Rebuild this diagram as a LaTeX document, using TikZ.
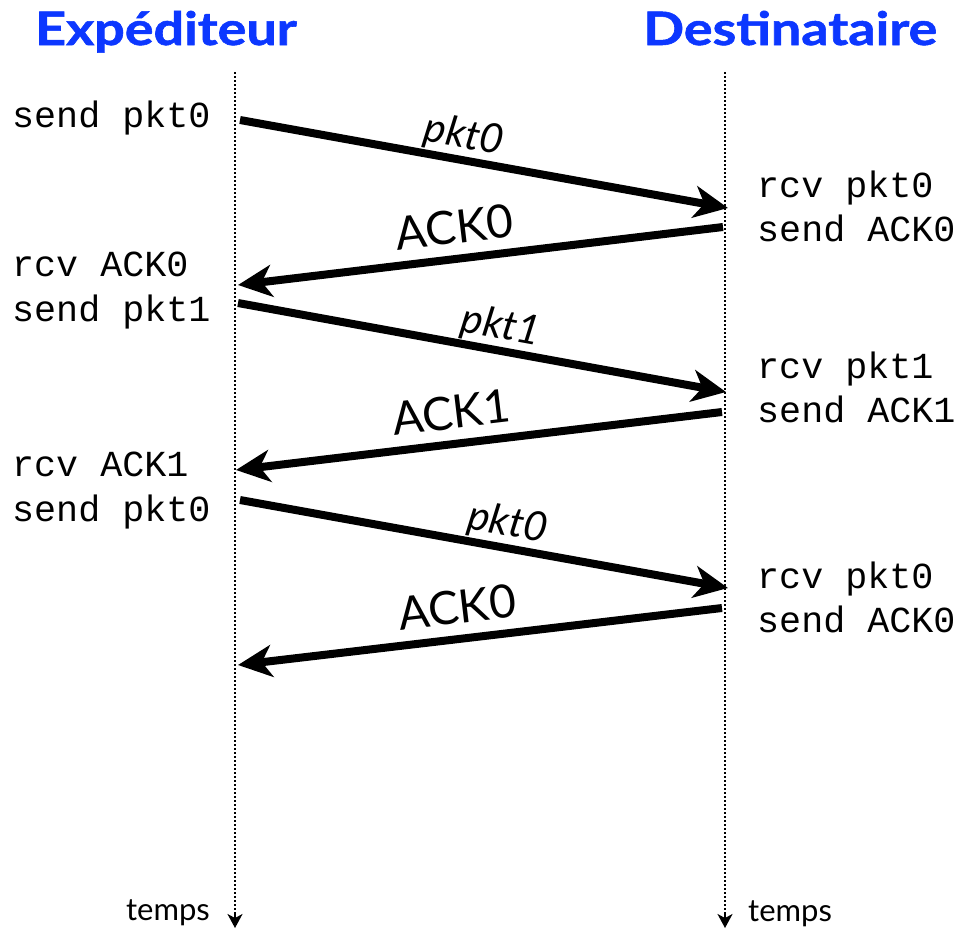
\documentclass[tikz,border=0pt]{standalone}
\usepackage{fontspec}
\usetikzlibrary{arrows.meta}
\newfontfamily\labfont{Lato}
\newfontfamily\headfont{Lato}[BoldFeatures={FakeBold=1.2}]
\newfontfamily\monofont{Liberation Mono}
\definecolor{titleblue}{RGB}{12,55,255}
\tikzset{
  lifeline/.style={line width=2pt, dash pattern=on 2pt off 2pt},
  lifetip/.style={line width=2pt, solid,
    -{Stealth[length=14pt,width=15pt,inset=4pt]}},
  msg/.style={line width=8pt,
    -{Stealth[length=34pt,width=32pt,inset=10pt]}},
  title/.style={font=\headfont\fontsize{46}{52}\selectfont\bfseries,
    text=titleblue, inner sep=0pt, anchor=base west, xscale=1.17},
  event/.style={font=\monofont\fontsize{36.7}{44}\selectfont,
    inner sep=0pt, anchor=base west},
  pktlab/.style={font=\labfont\fontsize{41}{46}\selectfont\itshape,
    inner sep=0pt, sloped, above=1pt},
  acklab/.style={font=\labfont\fontsize{46}{52}\selectfont,
    inner sep=0pt, sloped, above=11pt},
  timelab/.style={font=\labfont\fontsize{31}{36}\selectfont, inner sep=0pt}
}
\begin{document}
\begin{tikzpicture}[x=1pt,y=-1pt]
\useasboundingbox (0,0) rectangle (957,929);

% titles
\node[title] (tsend) at (35,45) {Expéditeur};
\node[title] (trecv) at (643,45) {Destinataire};

% time axes: dotted line, solid tip at the bottom
\coordinate (ltop) at (235,72);
\coordinate (lmid) at (235,912);
\coordinate (lbot) at (235,928);
\coordinate (rtop) at (725,72);
\coordinate (rmid) at (725,912);
\coordinate (rbot) at (725,928);
\draw[lifeline] (ltop) -- (lmid);
\draw[lifetip] (lmid) -- (lbot);
\draw[lifeline] (rtop) -- (rmid);
\draw[lifetip] (rmid) -- (rbot);
\node[timelab, anchor=base east] (ltime) at (210,920) {temps};
\node[timelab, anchor=base west] (rtime) at (748,921) {temps};

% message end points
\coordinate (a1) at (240,120);  \coordinate (b1) at (728,208);
\coordinate (b2) at (723,227);  \coordinate (a2) at (238,285);
\coordinate (a3) at (238,303);  \coordinate (b3) at (726,392);
\coordinate (b4) at (722,412);  \coordinate (a4) at (236,470);
\coordinate (a5) at (240,500);  \coordinate (b5) at (728,588);
\coordinate (b6) at (722,608);  \coordinate (a6) at (238,665);

% messages
\draw[msg] (a1) -- node[pktlab, pos=0.45] (l1) {pkt0} (b1);
\draw[msg] (b2) -- node[acklab, pos=0.546] (l2) {ACK0} (a2);
\draw[msg] (a3) -- node[pktlab, pos=0.53] (l3) {pkt1} (b3);
\draw[msg] (b4) -- node[acklab, pos=0.55] (l4) {ACK1} (a4);
\draw[msg] (a5) -- node[pktlab, pos=0.54] (l5) {pkt0} (b5);
\draw[msg] (b6) -- node[acklab, pos=0.54] (l6) {ACK0} (a6);

% sender events
\node[event] (e1) at (12,127) {send pkt0};
\node[event] (e2) at (12,276) {rcv ACK0};
\node[event] (e3) at (12,321) {send pkt1};
\node[event] (e4) at (12,476) {rcv ACK1};
\node[event] (e5) at (12,521) {send pkt0};

% receiver events
\node[event] (f1) at (757,197) {rcv pkt0};
\node[event] (f2) at (757,241) {send ACK0};
\node[event] (f3) at (757,378) {rcv pkt1};
\node[event] (f4) at (757,422) {send ACK1};
\node[event] (f5) at (757,588) {rcv pkt0};
\node[event] (f6) at (757,632) {send ACK0};
\end{tikzpicture}
\end{document}
